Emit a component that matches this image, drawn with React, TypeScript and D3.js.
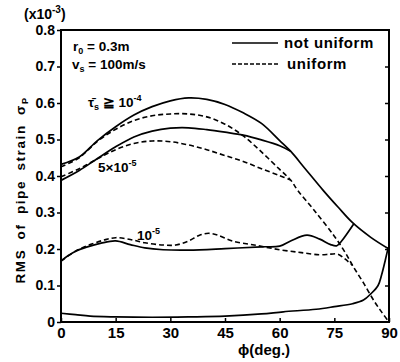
import React, { useEffect, useRef } from 'react';
import * as d3 from 'd3';

type Pt = [number, number];

// phi (deg.) vs RMS of pipe strain (x10^-3)
const notUniformHigh: Pt[] = [
  [0, 0.432], [5, 0.452], [10, 0.497], [15, 0.535], [20, 0.567], [25, 0.59], [30, 0.606],
  [35, 0.614], [40, 0.61], [45, 0.596], [50, 0.573], [55, 0.544], [60, 0.497], [63, 0.468],
  [67, 0.42], [72, 0.36], [76, 0.315], [80, 0.272], [85, 0.232], [90, 0.2],
];
const notUniformMid: Pt[] = [
  [0, 0.388], [5, 0.415], [10, 0.448], [15, 0.48], [20, 0.507], [25, 0.523], [30, 0.531],
  [35, 0.532], [40, 0.527], [45, 0.52], [50, 0.512], [55, 0.499], [60, 0.483], [63, 0.468],
];
const notUniformLow: Pt[] = [
  [0, 0.167], [2, 0.182], [4, 0.194], [7, 0.205], [11, 0.216], [15, 0.222], [19, 0.212],
  [23, 0.203], [28, 0.198], [35, 0.197], [45, 0.201], [55, 0.206], [60, 0.208], [63, 0.222],
  [67.5, 0.238], [71, 0.227], [74, 0.212], [75.7, 0.209], [77, 0.222], [80.4, 0.27],
];
const notUniformZero: Pt[] = [
  [0, 0.024], [4, 0.02], [8, 0.016], [15, 0.014], [25, 0.013], [35, 0.014], [45, 0.016],
  [55, 0.022], [61, 0.028], [70, 0.035], [75, 0.042], [80, 0.05], [83, 0.06], [85, 0.077],
  [87, 0.1], [88, 0.13], [89, 0.17], [89.8, 0.205],
];
const uniformHigh: Pt[] = [
  [0, 0.425], [5, 0.45], [10, 0.495], [15, 0.528], [20, 0.552], [25, 0.565], [30, 0.57],
  [35, 0.57], [40, 0.562], [45, 0.542], [50, 0.51], [55, 0.466], [60, 0.418], [63, 0.389],
  [65, 0.36], [69.4, 0.307], [75, 0.235], [78, 0.19], [80, 0.155], [83, 0.107], [86, 0.056],
  [88, 0.027], [90, 0],
];
const uniformMid: Pt[] = [
  [0, 0.398], [5, 0.42], [10, 0.447], [15, 0.472], [20, 0.489], [25, 0.496], [30, 0.494],
  [35, 0.485], [40, 0.472], [45, 0.456], [50, 0.44], [55, 0.42], [60, 0.401], [63, 0.389],
];
const uniformLow: Pt[] = [
  [0, 0.167], [4, 0.194], [8, 0.212], [12, 0.225], [15, 0.231], [19, 0.226], [23, 0.217],
  [28, 0.211], [31.5, 0.211], [35, 0.222], [38, 0.238], [40.5, 0.243], [43, 0.238],
  [47, 0.222], [53, 0.211], [60, 0.198], [66, 0.19], [71, 0.184], [74, 0.186], [76, 0.186],
  [78, 0.172], [80, 0.155],
];

const xTicks = [0, 15, 30, 45, 60, 75, 90];
const yTicks = [0, 0.1, 0.2, 0.3, 0.4, 0.5, 0.6, 0.7, 0.8];

const App = () => {
  const ref = useRef<SVGSVGElement>(null);

  useEffect(() => {
    const svg = d3.select(ref.current);
    svg.selectAll('*').remove();
    const width = 400;
    const height = 362;
    const margin = { top: 30, right: 11, bottom: 40, left: 61 };
    const font = '"Liberation Sans", Arial, sans-serif';

    svg.attr('width', width).attr('height', height);

    const x = d3.scaleLinear().domain([0, 90]).range([margin.left, width - margin.right]);
    const y = d3.scaleLinear().domain([0, 0.8]).range([height - margin.bottom, margin.top]);

    const line = d3
      .line<Pt>()
      .curve(d3.curveCatmullRom)
      .x(d => x(d[0]))
      .y(d => y(d[1]));

    const solid = [notUniformHigh, notUniformMid, notUniformLow, notUniformZero];
    const dashed = [uniformHigh, uniformMid, uniformLow];

    solid.forEach(s => {
      svg.append('path').datum(s)
        .attr('fill', 'none').attr('stroke', '#000').attr('stroke-width', 1.7)
        .attr('d', line);
    });
    dashed.forEach(s => {
      svg.append('path').datum(s)
        .attr('fill', 'none').attr('stroke', '#000').attr('stroke-width', 1.6)
        .attr('stroke-dasharray', '5,3')
        .attr('d', line);
    });

    // frame
    svg.append('rect')
      .attr('x', x(0)).attr('y', y(0.8))
      .attr('width', x(90) - x(0)).attr('height', y(0) - y(0.8))
      .attr('fill', 'none').attr('stroke', '#000').attr('stroke-width', 2);

    const yAxis = d3.axisLeft(y).tickValues(yTicks).tickSize(4).tickPadding(2)
      .tickFormat(d => (+d === 0 ? '0' : d3.format('.1f')(+d)));
    const gy = svg.append('g').attr('transform', `translate(${margin.left},0)`).call(yAxis);
    gy.select('.domain').remove();
    gy.selectAll('line').attr('stroke-width', 1.5);
    gy.selectAll('text').attr('font-family', font).attr('font-size', 14)
      .attr('font-weight', 'bold').attr('fill', '#000');

    const gr = svg.append('g').attr('transform', `translate(${width - margin.right},0)`)
      .call(d3.axisLeft(y).tickValues(yTicks.slice(1, -1)).tickSize(4).tickFormat(() => ''));
    gr.select('.domain').remove();
    gr.selectAll('line').attr('stroke-width', 1.5);

    const xAxis = d3.axisBottom(x).tickValues(xTicks).tickSize(-4).tickPadding(5);
    const gx = svg.append('g').attr('transform', `translate(0,${height - margin.bottom})`).call(xAxis);
    gx.select('.domain').remove();
    gx.selectAll('line').attr('stroke-width', 1.5);
    gx.selectAll('text').attr('font-family', font).attr('font-size', 15)
      .attr('font-weight', 'bold').attr('fill', '#000');

    const txt = (tx: number, ty: number, size = 14) =>
      svg.append('text').attr('x', tx).attr('y', ty)
        .attr('font-family', font).attr('font-size', size).attr('font-weight', 'bold');

    // x title
    const xt = txt(238, 355, 15);
    xt.append('tspan').text('ϕ');
    xt.append('tspan').text('(deg.)');

    // y title
    const yt = svg.append('text')
      .attr('transform', 'translate(25,190) rotate(-90)')
      .attr('text-anchor', 'middle')
      .attr('font-family', font).attr('font-size', 13.5).attr('font-weight', 'bold')
      .attr('letter-spacing', 1.6).attr('word-spacing', 4);
    yt.append('tspan').text('RMS of pipe strain σ');
    yt.append('tspan').attr('font-size', 9).attr('dy', 3).text('P');

    // unit
    const ut = txt(24, 19, 14);
    ut.append('tspan').text('(x10');
    ut.append('tspan').attr('font-size', 10).attr('dy', -6).text('-3');
    ut.append('tspan').attr('dy', 6).text(')');

    // parameters
    const r0 = txt(73, 51, 13.5);
    r0.append('tspan').text('r');
    r0.append('tspan').attr('font-size', 9).attr('dy', 3).text('0');
    r0.append('tspan').attr('dy', -3).text(' = 0.3m');
    const vs = txt(72, 69, 13.5);
    vs.append('tspan').text('v');
    vs.append('tspan').attr('font-size', 9).attr('dy', 3).text('s');
    vs.append('tspan').attr('dy', -3).text(' = 100m/s');

    // legend
    svg.append('line').attr('x1', 232).attr('x2', 278).attr('y1', 43).attr('y2', 43)
      .attr('stroke', '#000').attr('stroke-width', 1.5);
    txt(284, 48, 15).attr('letter-spacing', 0.6).text('not uniform');
    svg.append('line').attr('x1', 232).attr('x2', 280).attr('y1', 64).attr('y2', 64)
      .attr('stroke', '#000').attr('stroke-width', 1.5).attr('stroke-dasharray', '4,2');
    txt(287, 69, 15).attr('letter-spacing', 0.6).text('uniform');

    // curve labels
    const t4 = txt(88, 107, 13.5);
    t4.append('tspan').text('τ̄');
    t4.append('tspan').attr('font-size', 9).attr('dy', 3).text('s');
    t4.append('tspan').attr('dy', -3).text(' ≧ 10');
    t4.append('tspan').attr('font-size', 9).attr('dy', -6).text('-4');

    const t5 = txt(98, 172, 13.5);
    t5.append('tspan').text('5×10');
    t5.append('tspan').attr('font-size', 9).attr('dy', -6).text('-5');

    const t1 = txt(137, 240, 13.5);
    t1.append('tspan').text('10');
    t1.append('tspan').attr('font-size', 9).attr('dy', -6).text('-5');
  }, []);

  return <svg ref={ref} style={{ position: 'absolute', left: 0, top: 0, display: 'block' }}></svg>;
};

export default App;
